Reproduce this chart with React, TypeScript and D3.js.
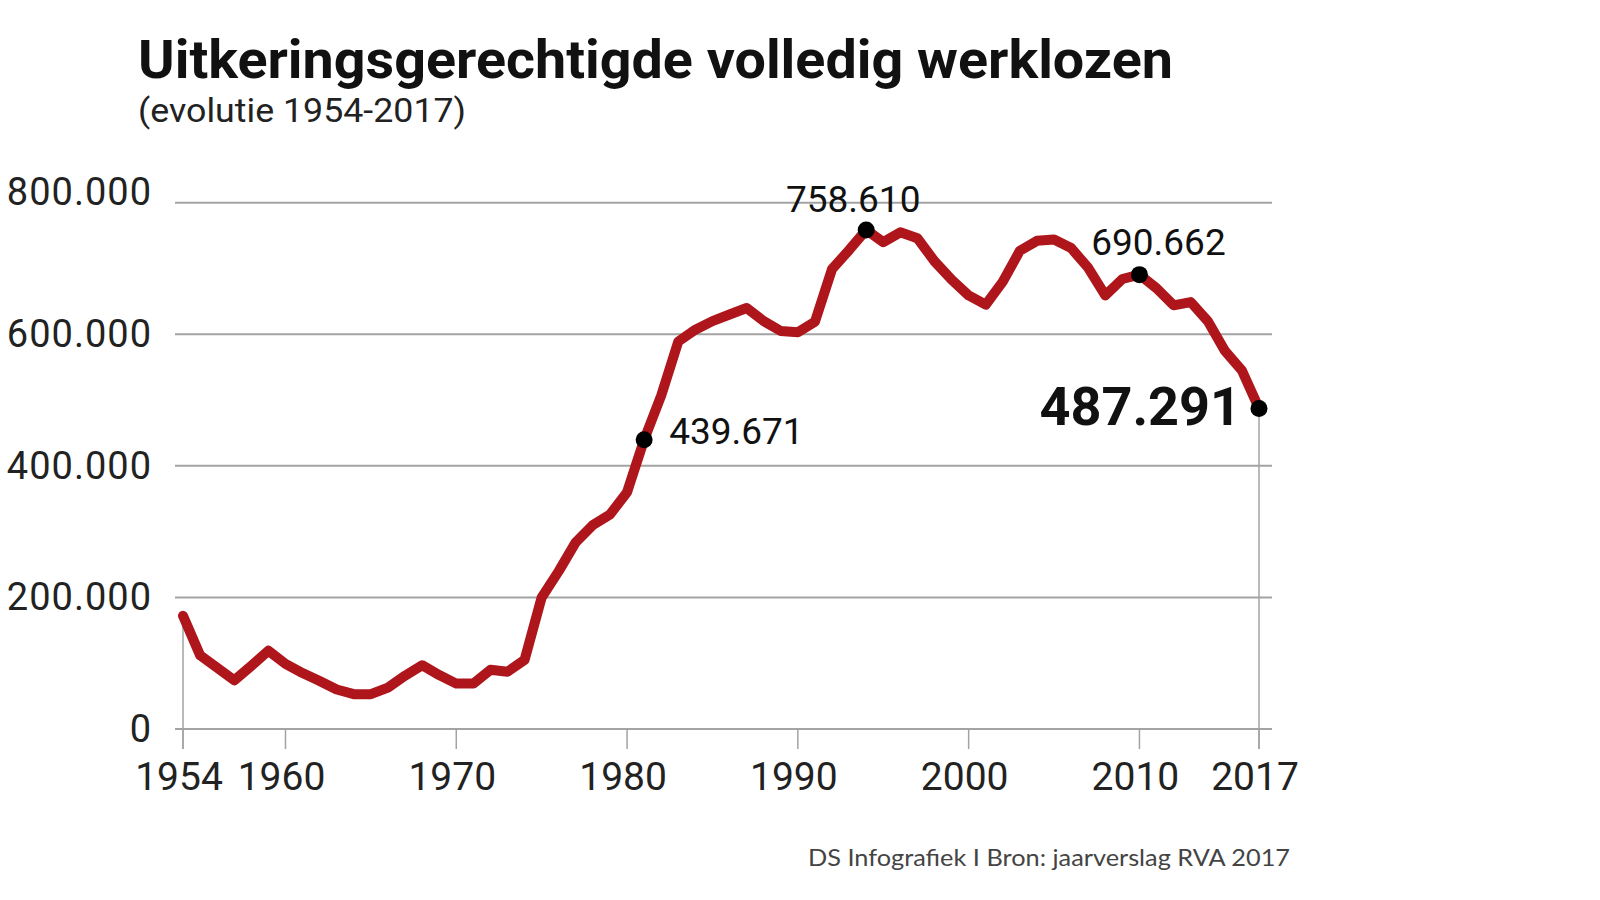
import * as d3 from "d3";

// Uitkeringsgerechtigde volledig werklozen, 1954-2017
const years = [
  1954, 1955, 1956, 1957, 1958, 1959, 1960, 1961, 1962, 1963, 1964, 1965, 1966,
  1967, 1968, 1969, 1970, 1971, 1972, 1973, 1974, 1975, 1976, 1977, 1978, 1979,
  1980, 1981, 1982, 1983, 1984, 1985, 1986, 1987, 1988, 1989, 1990, 1991, 1992,
  1993, 1994, 1995, 1996, 1997, 1998, 1999, 2000, 2001, 2002, 2003, 2004, 2005,
  2006, 2007, 2008, 2009, 2010, 2011, 2012, 2013, 2014, 2015, 2016, 2017,
];
const werklozen = [
  172000, 112000, 93000, 74000, 96000, 119000, 99000, 85000, 73000, 60000, 53000,
  53000, 63000, 81000, 97000, 82000, 69000, 69000, 90000, 87000, 105000, 200000,
  240000, 284000, 310000, 326000, 360000, 439671, 507000, 589000, 607000, 620000,
  630000, 640000, 620000, 605000, 603000, 619000, 699000, 728000, 758610, 740000,
  755000, 746000, 711000, 683000, 659000, 645000, 680000, 727000, 742000, 744000,
  731000, 701000, 659000, 684000, 690662, 670000, 644000, 649000, 620000, 575000,
  545000, 487291,
];
const yTicks = [0, 200000, 400000, 600000, 800000];
const xTicks = [1954, 1960, 1970, 1980, 1990, 2000, 2010, 2017];
const highlightYears = [1981, 1994, 2010, 2017];

const W = 1600;
const H = 900;
const RED = "#ae161c";
const GRID = "#a3a3a3";

const nl = d3.formatLocale({
  decimal: ",",
  thousands: ".",
  grouping: [3],
  currency: ["€", ""],
});
const fmt = nl.format(",");

export default function App() {
  const data = years.map((y, i) => ({ year: y, value: werklozen[i] }));
  const x = d3.scaleLinear().domain([1954, 2017]).range([183, 1259]);
  const y = d3.scaleLinear().domain([0, 800000]).range([729, 202.7]);
  const line = d3
    .line<{ year: number; value: number }>()
    .x((d) => x(d.year))
    .y((d) => y(d.value));

  const first = data[0];
  const last = data[data.length - 1];
  const pt = (yr: number) => data.find((d) => d.year === yr)!;

  // label placement per highlighted point
  const labelPos: Record<number, { dx: number; dy: number; anchor: string; size: number; weight: number }> = {
    1981: { dx: 25, dy: 4, anchor: "start", size: 37, weight: 400 },
    1994: { dx: -13, dy: -18, anchor: "middle", size: 37, weight: 400 },
    2010: { dx: 19, dy: -20, anchor: "middle", size: 37, weight: 400 },
    2017: { dx: -18, dy: 17, anchor: "end", size: 54, weight: 700 },
  };

  return (
    <svg
      width={W}
      height={H}
      style={{ position: "absolute", left: 0, top: 0, background: "#fff" }}
      fontFamily="Roboto, 'Open Sans', sans-serif"
    >
      <rect width={W} height={H} fill="#fff" />
      <text
        x={138}
        y={78}
        fontSize={53}
        fontWeight={700}
        fill="#111"
        textLength={1035}
        lengthAdjust="spacingAndGlyphs"
      >
        Uitkeringsgerechtigde volledig werklozen
      </text>
      <text
        x={138}
        y={122}
        fontSize={34}
        fontWeight={400}
        fill="#222"
        textLength={328}
        lengthAdjust="spacingAndGlyphs"
      >
        (evolutie 1954-2017)
      </text>

      {/* gridlines + y labels */}
      {yTicks.map((t) => (
        <g key={t}>
          <line x1={175} x2={1272} y1={y(t)} y2={y(t)} stroke={GRID} strokeWidth={2} />
          <text
            x={152}
            y={y(t)}
            dy={t === 800000 ? -11 : 0}
            textAnchor="end"
            dominantBaseline="central"
            fontSize={38}
            fontWeight={400}
            letterSpacing={1}
            fill="#222"
          >
            {fmt(t)}
          </text>
        </g>
      ))}

      {/* x ticks and labels */}
      {xTicks.map((t) => (
        <g key={t}>
          <line x1={x(t)} x2={x(t)} y1={y(0)} y2={y(0) + 20} stroke={GRID} strokeWidth={1.5} />
          <text
            x={x(t) - 4}
            y={790}
            textAnchor="middle"
            fontSize={39}
            fontWeight={400}
            fill="#222"
          >
            {t}
          </text>
        </g>
      ))}

      {/* drop lines at first and last year */}
      {[first, last].map((d) => (
        <line
          key={d.year}
          x1={x(d.year)}
          x2={x(d.year)}
          y1={y(d.value)}
          y2={y(0) + 20}
          stroke={GRID}
          strokeWidth={1.5}
        />
      ))}

      <path
        d={line(data) || ""}
        fill="none"
        stroke={RED}
        strokeWidth={10}
        strokeLinejoin="round"
        strokeLinecap="round"
      />

      {highlightYears.map((yr) => {
        const d = pt(yr);
        const p = labelPos[yr];
        return (
          <g key={yr}>
            <circle cx={x(d.year)} cy={y(d.value)} r={8.5} fill="#000" />
            <text
              x={x(d.year) + p.dx}
              y={y(d.value) + p.dy}
              textAnchor={p.anchor}
              fontSize={p.size}
              fontWeight={p.weight}
              fill="#111"
            >
              {fmt(d.value)}
            </text>
          </g>
        );
      })}

      <text
        x={1290}
        y={866}
        textAnchor="end"
        fontSize={24}
        fontFamily="Lato, 'Open Sans', sans-serif"
        fill="#444"
        textLength={482}
        lengthAdjust="spacingAndGlyphs"
      >
        DS Infografiek I Bron: jaarverslag RVA 2017
      </text>
    </svg>
  );
}
